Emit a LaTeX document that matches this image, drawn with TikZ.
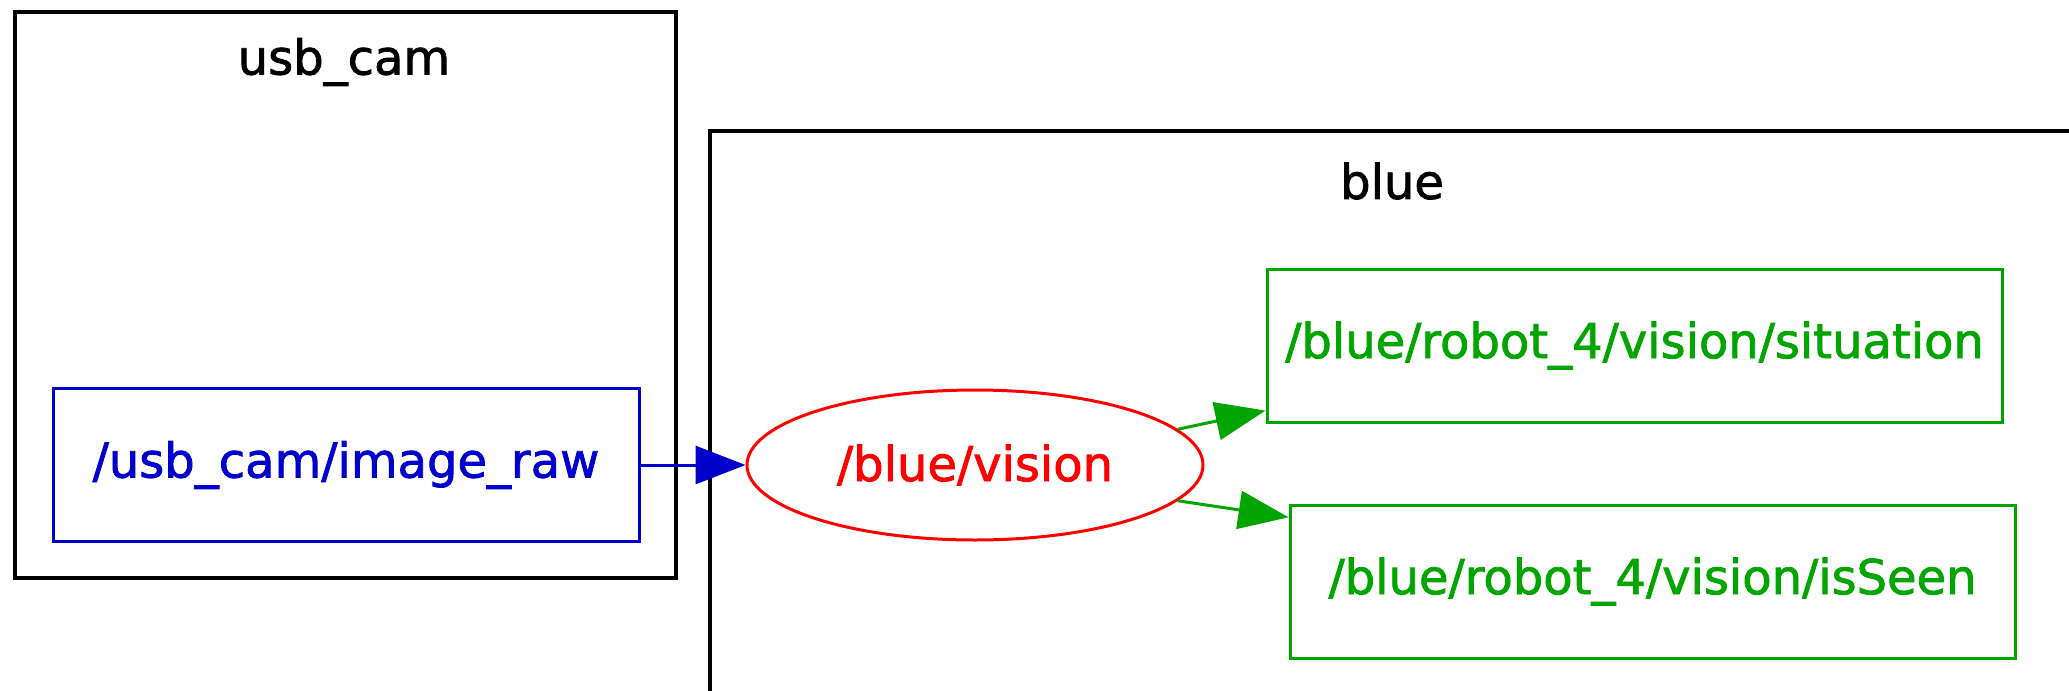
\documentclass[tikz,border=0pt]{standalone}
\usepackage{fontspec}
\setmainfont{DejaVu Sans}[FakeBold=1.6]
\usetikzlibrary{arrows.meta,shapes.geometric}

\definecolor{topicblue}{RGB}{0,0,204}
\definecolor{topicgreen}{RGB}{0,165,0}

\begin{document}
\begin{tikzpicture}[x=0.5pt,y=-0.5pt]
  \tikzset{
    cluster/.style={draw=black, line width=2pt},
    title/.style={font=\fontsize{24pt}{28pt}\selectfont},
    topic/.style={draw, rectangle, line width=1.5pt, minimum height=76.5pt,
                  inner sep=0pt, font=\fontsize{24pt}{28pt}\selectfont},
    rosnode/.style={draw=red, text=red, ellipse, line width=1.5pt,
                    minimum width=228pt, minimum height=75pt, inner sep=0pt,
                    font=\fontsize{24pt}{28pt}\selectfont},
    pub/.style={line width=1.5pt, -{Triangle[length=25pt,width=19pt]}}
  }
  \useasboundingbox (0,0) rectangle (2069,691);
  \fill[white] (0,0) rectangle (2069,691);
  \clip (0,0) rectangle (2069,691);

  % namespaces
  \draw[cluster] (14.5,12) rectangle (676,578);
  \draw[cluster] (710,720) -- (710,131) -- (2090,131);
  \node[title] (usbcam) at (344,62) {usb\_cam};
  \node[title] (blue) at (1392,181) {blue};

  % topics and nodes
  \node[topic, draw=topicblue, text=topicblue, minimum width=293pt]
    (imageraw) at (346,465) {/usb\_cam/image\_raw};
  \node[rosnode] (vision) at (975,465) {/blue/vision};
  \node[topic, draw=topicgreen, text=topicgreen, minimum width=367.5pt]
    (situation) at (1634.5,345.5) {/blue/robot\_4/vision/situation};
  \node[topic, draw=topicgreen, text=topicgreen, minimum width=362.5pt]
    (isseen) at (1652.5,581.5) {/blue/robot\_4/vision/isSeen};

  % connections
  \draw[pub, topicblue] (imageraw) -- (vision);
  \draw[pub, topicgreen] (vision.10) -- (situation.-170);
  \draw[pub, topicgreen] (vision.-10) -- (isseen.170);
\end{tikzpicture}
\end{document}
